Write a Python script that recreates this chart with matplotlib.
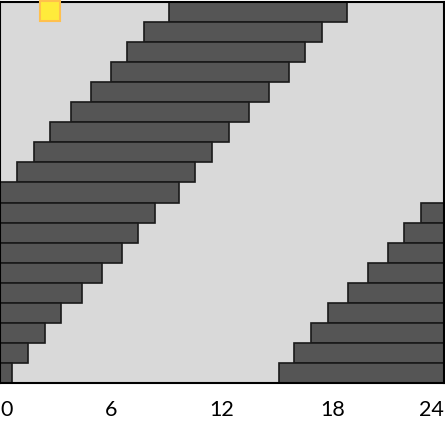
import matplotlib.pyplot as plt
from matplotlib.lines import Line2D

# shift blocks, one row per day, hours on x (wrapped at 24)
rows = list(range(19))
start = [9.14, 7.78, 6.86, 6.00, 4.92, 3.84, 2.70, 1.84, 0.92, 0.00,
         0.00, 0.00, 0.00, 0.00, 0.00, 0.00, 0.00, 0.00, 0.00]
end = [18.76, 17.40, 16.49, 15.62, 14.54, 13.46, 12.38, 11.46, 10.54, 9.68,
       8.38, 7.46, 6.59, 5.51, 4.43, 3.30, 2.43, 1.51, 0.65]
# wrapped part of the later rows
wrap_rows = list(range(10, 19))
wrap_start = [22.76, 21.84, 20.97, 19.89, 18.81, 17.73, 16.81, 15.89, 15.08]
wrap_end = [24] * 9

xticks = [0, 6, 12, 18, 24]
xlabels = ['0', '6', '12', '18', '24']

fig = plt.figure(figsize=(4.45, 4.21), dpi=100)
ax = fig.add_axes([0.0, 38 / 421, 444 / 445, 381 / 421])
ax.set_facecolor('#d9d9d9')

bar_kw = dict(height=1.0, color='#555555', edgecolor='#1a1a1a', linewidth=1.2)
ax.barh(rows, [e - s for s, e in zip(start, end)], left=start, **bar_kw)
ax.barh(wrap_rows, [e - s for s, e in zip(wrap_start, wrap_end)], left=wrap_start, **bar_kw)

ax.set_xlim(0, 24)
ax.set_ylim(18.5, -0.5)
ax.set_yticks([])
ax.set_xticks(xticks)
ax.set_xticklabels(xlabels, fontsize=15.5, family='Lato')
labs = ax.get_xticklabels()
labs[0].set_ha('left')
labs[-1].set_ha('right')
ax.tick_params(axis='x', length=0, pad=12)
for sp in ax.spines.values():
    sp.set_color('black')
    sp.set_linewidth(1.5)

# little yellow legend marker in the corner
handle = Line2D([], [], linestyle='none', marker='s', markersize=14.5,
                markerfacecolor='#ffeb3b', markeredgecolor='#ffc04d', markeredgewidth=1.5)
ax.legend([handle], [''], loc='upper left', bbox_to_anchor=(0.057, 1.021),
          frameon=False, handletextpad=0, borderpad=0.3)

fig.savefig('out.png', dpi=100)
